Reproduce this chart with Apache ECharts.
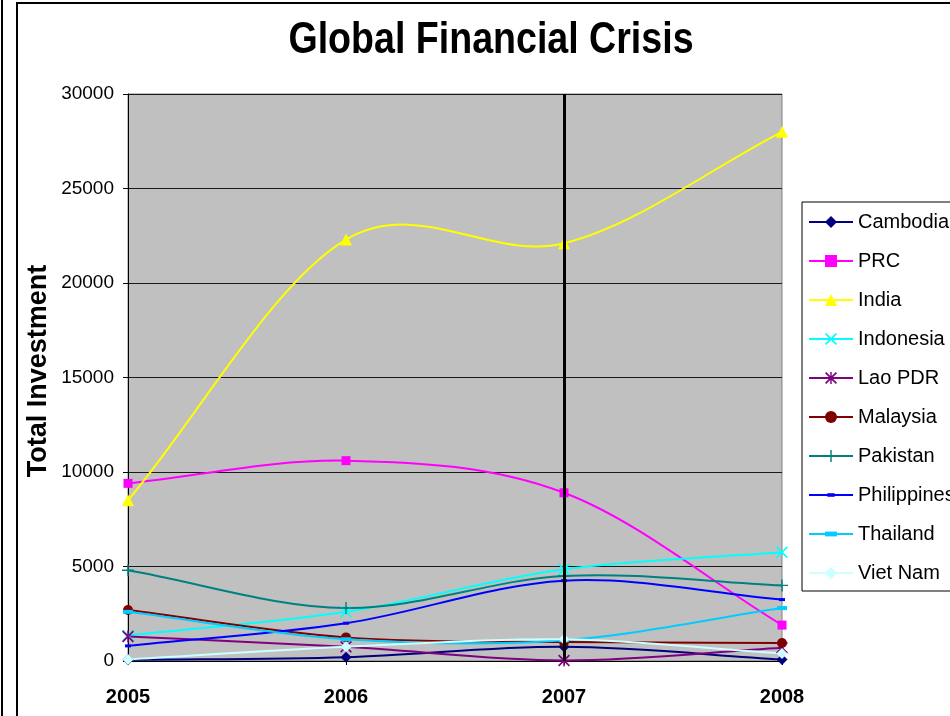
<!DOCTYPE html>
<html>
<head>
<meta charset="utf-8">
<script src="https://cdn.jsdelivr.net/npm/echarts@6/dist/echarts.min.js"></script>
<style>
  html, body { margin: 0; padding: 0; background: #fff; }
  #chart { width: 950px; height: 716px; }
</style>
</head>
<body>
<div id="chart"></div>
<script>
// Years on the x axis
const years = ['2005', '2006', '2007', '2008'];

// Total investment by country
const cambodia    = [60, 200, 750, 80];
const prc         = [9400, 10600, 8900, 1900];
const india       = [8500, 22300, 22100, 28000];
const indonesia   = [1350, 2600, 4850, 5750];
const laoPdr      = [1300, 750, 30, 700];
const malaysia    = [2700, 1250, 1000, 950];
const pakistan    = [4800, 2800, 4500, 4000];
const philippines = [800, 2000, 4250, 3250];
const thailand    = [2600, 1150, 1100, 2800];
const vietNam     = [80, 750, 1150, 400];

// Y axis ticks
const yTicks = [0, 5000, 10000, 15000, 20000, 25000, 30000];

// Year marked with the vertical line
const crisisYear = '2007';

const FONT = '"Liberation Sans", Arial, sans-serif';

// Marker shapes (filled paths; zero-length subpaths pad the bounding box)
const xMark = 'path://M0,1L1,0L5,4L9,0L10,1L6,5L10,9L9,10L5,6L1,10L0,9L4,5Z';
const plusMark = 'path://M4.4,0H5.6V4.4H10V5.6H5.6V10H4.4V5.6H0V4.4H4.4Z';
const starMark = 'path://M0,1L1,0L5,4L9,0L10,1L6,5L10,9L9,10L5,6L1,10L0,9L4,5Z M4.4,0H5.6V10H4.4Z';
const shortDash = 'path://M0,0L0,0M10,10L10,10M2,3.5H8V6.5H2Z';
const longDash = 'path://M0,0L0,0M10,10L10,10M0,3H10V7H0Z';

const countries = [
  { name: 'Cambodia',    data: cambodia,    color: '#000080', symbol: 'diamond',  size: 11 },
  { name: 'PRC',         data: prc,         color: '#FF00FF', symbol: 'rect',     size: 9 },
  { name: 'India',       data: india,       color: '#FFFF00', symbol: 'triangle', size: 12 },
  { name: 'Indonesia',   data: indonesia,   color: '#00FFFF', symbol: xMark,      size: 12 },
  { name: 'Lao PDR',     data: laoPdr,      color: '#800080', symbol: starMark,   size: 12 },
  { name: 'Malaysia',    data: malaysia,    color: '#800000', symbol: 'circle',   size: 10 },
  { name: 'Pakistan',    data: pakistan,    color: '#008080', symbol: plusMark,   size: 12 },
  { name: 'Philippines', data: philippines, color: '#0000FF', symbol: shortDash,  size: 10 },
  { name: 'Thailand',    data: thailand,    color: '#00CCFF', symbol: longDash,   size: 10 },
  { name: 'Viet Nam',    data: vietNam,     color: '#CCFFFF', symbol: 'diamond',  size: 11 }
];

// Smoothed curve through the data points (cardinal spline, tension 1/6)
function smoothPath(pts) {
  const n = pts.length;
  const get = (i) => {
    if (i < 0) return [2 * pts[0][0] - pts[1][0], 2 * pts[0][1] - pts[1][1]];
    if (i >= n) return [2 * pts[n - 1][0] - pts[n - 2][0], 2 * pts[n - 1][1] - pts[n - 2][1]];
    return pts[i];
  };
  let d = 'M' + pts[0][0] + ',' + pts[0][1];
  for (let i = 0; i < n - 1; i++) {
    const p0 = get(i - 1), p1 = get(i), p2 = get(i + 1), p3 = get(i + 2);
    const c1x = p1[0] + (p2[0] - p0[0]) / 6, c1y = p1[1] + (p2[1] - p0[1]) / 6;
    const c2x = p2[0] - (p3[0] - p1[0]) / 6, c2y = p2[1] - (p3[1] - p1[1]) / 6;
    d += 'C' + c1x + ',' + c1y + ',' + c2x + ',' + c2y + ',' + p2[0] + ',' + p2[1];
  }
  return d;
}

function curveSeries(c) {
  return {
    type: 'custom',
    name: c.name + ' curve',
    z: 2,
    silent: true,
    data: [[0, c.data[0]]],
    encode: { x: 0, y: 1 },
    renderItem: function (params, api) {
      const pts = c.data.map((v, i) => api.coord([i, v]));
      return {
        type: 'path',
        shape: { pathData: smoothPath(pts) },
        style: { fill: 'none', stroke: c.color, lineWidth: 2 }
      };
    }
  };
}

function markerSeries(c) {
  return {
    type: 'line',
    name: c.name,
    z: 4,
    data: c.data,
    symbol: c.symbol,
    symbolSize: c.size,
    showAllSymbol: true,
    lineStyle: { width: 0, color: c.color },
    itemStyle: { color: c.color },
    emphasis: { disabled: true }
  };
}

const series = [];
countries.forEach(c => series.push(curveSeries(c)));
series.push({
  type: 'line',
  name: 'crisis',
  z: 3,
  data: [null, null, null, null],
  symbol: 'none',
  markLine: {
    silent: true,
    symbol: 'none',
    label: { show: false },
    lineStyle: { color: '#000', width: 3, type: 'solid' },
    data: [{ xAxis: crisisYear }]
  }
});
countries.forEach(c => series.push(markerSeries(c)));

const chart = echarts.init(document.getElementById('chart'), null, { renderer: 'canvas' });
chart.setOption({
  animation: false,
  backgroundColor: '#fff',
  textStyle: { fontFamily: FONT },
  grid: {
    left: 128, right: 168, top: 94, bottom: 55,
    show: true,
    backgroundColor: '#C0C0C0',
    borderColor: '#808080',
    borderWidth: 1
  },
  xAxis: {
    type: 'category',
    data: years,
    boundaryGap: false,
    axisLine: { lineStyle: { color: '#000', width: 1 } },
    axisTick: { show: true, length: 4, lineStyle: { color: '#000' } },
    axisLabel: { color: '#000', fontSize: 20, fontWeight: 'bold', fontFamily: FONT, margin: 26 },
    splitLine: { show: false }
  },
  yAxis: {
    type: 'value',
    min: yTicks[0],
    max: yTicks[yTicks.length - 1],
    interval: yTicks[1] - yTicks[0],
    axisLine: { show: true, lineStyle: { color: '#000', width: 1 } },
    axisTick: { show: true, length: 5, lineStyle: { color: '#000' } },
    axisLabel: {
      color: '#000', fontSize: 19, fontFamily: FONT, margin: 14,
      formatter: (v) => String(v)
    },
    splitLine: { show: true, lineStyle: { color: '#1a1a1a', width: 1 } }
  },
  legend: {
    orient: 'vertical',
    left: 802,
    top: 202,
    padding: [10, 10, 8, 6],
    itemGap: 19,
    itemWidth: 44,
    itemHeight: 15,
    borderColor: '#000',
    borderWidth: 1,
    backgroundColor: '#fff',
    lineStyle: { width: 2 },
    textStyle: { fontSize: 20, color: '#000', fontFamily: FONT },
    selectedMode: false,
    data: countries.map(c => c.name)
  },
  graphic: [
    { type: 'line', silent: true, shape: { x1: 2, y1: 0, x2: 2, y2: 716 }, style: { stroke: '#000', lineWidth: 2 } },
    { type: 'rect', silent: true, shape: { x: 17, y: 3, width: 1000, height: 1000 }, style: { fill: 'none', stroke: '#000', lineWidth: 2 } },
    {
      type: 'text', silent: true, x: 491, y: 41, scaleX: 0.835,
      style: { text: 'Global Financial Crisis', font: 'bold 45px ' + FONT, fill: '#000', align: 'center', verticalAlign: 'middle' }
    },
    {
      type: 'text', silent: true, x: 39, y: 371, rotation: Math.PI / 2,
      style: { text: 'Total Investment', font: 'bold 27px ' + FONT, fill: '#000', align: 'center', verticalAlign: 'middle' }
    }
  ],
  series: series
});
</script>
</body>
</html>
